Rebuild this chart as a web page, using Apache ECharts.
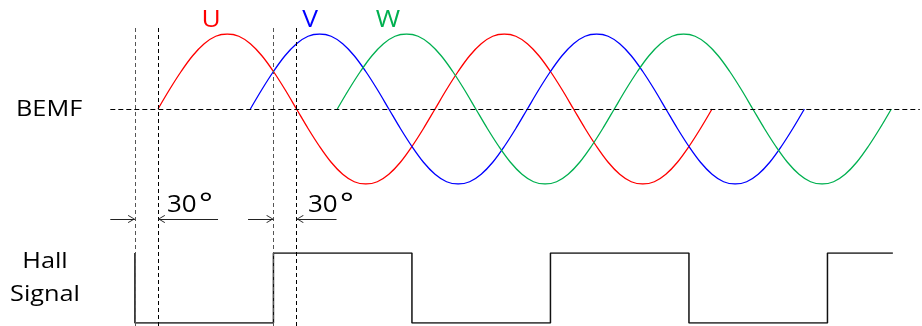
<!DOCTYPE html>
<html>
<head>
<meta charset="utf-8">
<script src="https://cdn.jsdelivr.net/npm/echarts@6/dist/echarts.min.js"></script>
<style>
  html, body { margin: 0; padding: 0; background: #fff; }
  #chart { width: 922px; height: 326px; }
</style>
</head>
<body>
<div id="chart"></div>
<script>
// Electrical angle (degrees) between two BEMF samples
const sampleStep = 15;

// One BEMF waveform over two electrical periods (0..720 deg), normalised to peak = 1
const bemfShape = [
  0, 0.26, 0.5, 0.71, 0.87, 0.97, 1, 0.97, 0.87, 0.71, 0.5, 0.26,
  0, -0.26, -0.5, -0.71, -0.87, -0.97, -1, -0.97, -0.87, -0.71, -0.5, -0.26,
  0, 0.26, 0.5, 0.71, 0.87, 0.97, 1, 0.97, 0.87, 0.71, 0.5, 0.26,
  0, -0.26, -0.5, -0.71, -0.87, -0.97, -1, -0.97, -0.87, -0.71, -0.5, -0.26,
  0
];

// Phase names and the angle where each phase's BEMF starts rising through zero
const phaseNames = ['U', 'V', 'W'];
const phaseStart = [0, 120, 233];
const phaseColors = ['#ff0000', '#0000ff', '#00b050'];

// Hall signal: edges (deg), level before the first edge, and where the trace ends
const hallEdges = [-30, 150, 330, 510, 690, 870];
const hallFirstLevel = 1;
const hallEnd = 955;

// Reference instants marked with vertical dashed lines (deg)
const markerAngles = [-30, 0, 150, 180];

// Hall-to-BEMF lead annotation: value and unit
const leadValue = '30';
const leadUnit = '°';

const X_MIN = -65, X_MAX = 990;
const FONT = "'Open Sans', 'Noto Sans', sans-serif";

function phaseSeries(k) {
  return {
    name: phaseNames[k],
    type: 'line',
    xAxisIndex: 0,
    yAxisIndex: 0,
    data: bemfShape.map((v, i) => [phaseStart[k] + i * sampleStep, v]),
    smooth: 0.35,
    showSymbol: false,
    silent: true,
    lineStyle: { color: phaseColors[k], width: 1.3 },
    z: 3
  };
}

function hallSeriesData() {
  const pts = [];
  let level = hallFirstLevel;
  hallEdges.forEach(e => {
    pts.push([e, level]);
    level = 1 - level;
    pts.push([e, level]);
  });
  pts.push([hallEnd, level]);
  return pts;
}

const chevron = 'path://M0,10 L5,0 L10,10 L9,10.6 L5,2.2 L1,10.6 Z';

function arrow(from, to) {
  return [
    { coord: [from, 0.5], symbol: 'none' },
    { coord: [to, 0.5], symbol: chevron, symbolSize: [8, 7], symbolOffset: [0, 3.5] }
  ];
}

const axisX = i => ({ type: 'value', gridIndex: i, min: X_MIN, max: X_MAX, show: false });
const axisY = (i, lo, hi) => ({ type: 'value', gridIndex: i, min: lo, max: hi, show: false });

function txt(text, x, y, color, size, align, stretch) {
  return {
    type: 'text', x: x, y: y, scaleX: stretch, silent: true,
    style: {
      text: text, fill: color, font: size + 'px ' + FONT,
      textAlign: align || 'left', textVerticalAlign: 'middle'
    }
  };
}

const chart = echarts.init(document.getElementById('chart'), null, { renderer: 'canvas' });

const GRID_LEFT = 108, GRID_WIDTH = 811.8;

chart.setOption({
  animation: false,
  backgroundColor: '#ffffff',
  grid: [
    { left: GRID_LEFT, width: GRID_WIDTH, top: 34, height: 150 },   // BEMF
    { left: GRID_LEFT, width: GRID_WIDTH, top: 253, height: 70 },   // Hall
    { left: GRID_LEFT, width: GRID_WIDTH, top: 27, bottom: 0 },     // vertical markers
    { left: GRID_LEFT, width: GRID_WIDTH, top: 209, height: 20 }    // lead arrows
  ],
  xAxis: [axisX(0), axisX(1), axisX(2), axisX(3)],
  yAxis: [axisY(0, -1, 1), axisY(1, 0, 1), axisY(2, 0, 1), axisY(3, 0, 1)],
  series: [
    {
      type: 'line', xAxisIndex: 0, yAxisIndex: 0, data: [], silent: true,
      markLine: {
        silent: true, symbol: 'none', label: { show: false },
        lineStyle: { color: '#000', width: 1.1, type: [5, 3] },
        data: [[{ coord: [-62, 0] }, { coord: [X_MAX, 0] }]]
      }
    },
    phaseSeries(0), phaseSeries(1), phaseSeries(2),
    {
      name: 'Hall', type: 'line', xAxisIndex: 1, yAxisIndex: 1,
      data: hallSeriesData(), showSymbol: false, silent: true,
      lineStyle: { color: '#111', width: 1.5 }
    },
    {
      type: 'line', xAxisIndex: 2, yAxisIndex: 2, data: [], silent: true,
      markLine: {
        silent: true, symbol: 'none', label: { show: false },
        lineStyle: { color: '#000', width: 1, type: [4, 3] },
        data: markerAngles.map((a, i) => ({
          xAxis: a,
          lineStyle: { color: i % 2 === 0 ? '#555' : '#000' }
        }))
      }
    },
    {
      type: 'line', xAxisIndex: 3, yAxisIndex: 3, data: [], silent: true,
      markLine: {
        silent: true, label: { show: false },
        lineStyle: { color: '#222', width: 1, type: 'solid' },
        data: [
          arrow(-62, markerAngles[0]),
          arrow(78, markerAngles[1]),
          arrow(117, markerAngles[2]),
          arrow(232, markerAngles[3])
        ]
      }
    }
  ],
  graphic: [
    txt('U', 211, 20, phaseColors[0], 24, 'center', 1.1),
    txt('V', 310, 20, phaseColors[1], 24, 'center', 1.1),
    txt('W', 388, 20, phaseColors[2], 24, 'center', 1.1),
    txt('BEMF', 16, 110, '#000', 22, 'left', 1.15),
    txt('Hall', 45, 262, '#000', 22, 'center', 1.15),
    txt('Signal', 45, 295, '#000', 22, 'center', 1.15),
    txt(leadValue, 167, 205, '#000', 24, 'left', 1.08),
    txt(leadUnit, 199, 205, '#000', 28, 'left', 1.15),
    txt(leadValue, 308, 205, '#000', 24, 'left', 1.08),
    txt(leadUnit, 340, 205, '#000', 28, 'left', 1.15)
  ]
});
</script>
</body>
</html>
